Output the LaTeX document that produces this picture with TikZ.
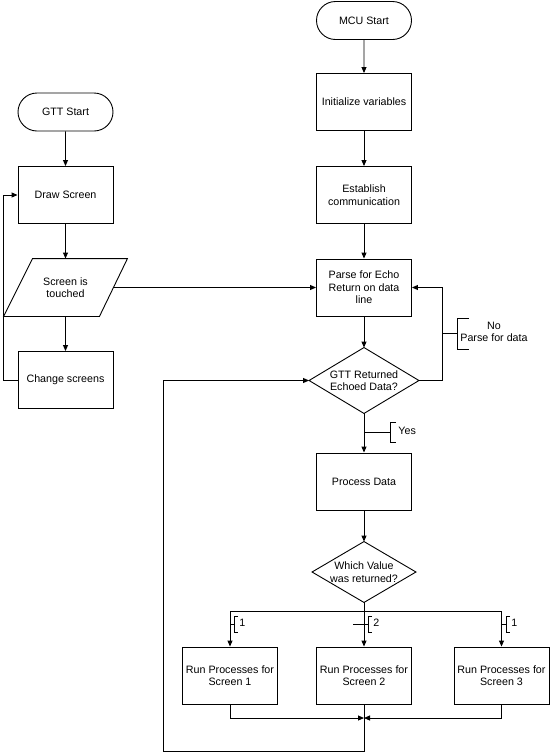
\documentclass[tikz,border=0pt]{standalone}
\usepackage{fontspec}
\setmainfont{Liberation Sans}
\usetikzlibrary{shapes.geometric,shapes.misc,arrows.meta}
\begin{document}
\begin{tikzpicture}[x=1pt,y=-1pt,
  every node/.style={font=\fontsize{10.7}{12.5}\selectfont, align=center, inner sep=0pt},
  proc/.style={draw, rectangle, minimum width=95pt, minimum height=57pt},
  term/.style={draw, rounded rectangle, minimum width=95pt, minimum height=38pt},
  iobox/.style={rectangle, minimum width=95pt, minimum height=57pt},
  decbox/.style={rectangle, minimum width=109pt, minimum height=65pt},
  arr/.style={-{Triangle[length=6pt,width=5pt]}},
  line width=0.9pt]
\useasboundingbox (0,0) rectangle (550,753);
\fill[white] (0,0) rectangle (550,753);

% GTT side
\node[term] (gs) at (65.5,112) {GTT Start};
\node[proc] (ds) at (65.5,195) {Draw Screen};
\node[iobox] (st) at (65.5,287.5) {Screen is\\touched};
\draw ([xshift=15pt]st.north west) -- ([xshift=14pt]st.north east)
      -- ([xshift=-14pt]st.south east) -- ([xshift=-14pt]st.south west) -- cycle;
\node[proc] (cs) at (65.5,380) {Change screens};

% MCU side
\node[term] (ms) at (364,20.5) {MCU Start};
\node[proc] (iv) at (364,102) {Initialize variables};
\node[proc] (ec) at (364,195) {Establish\\communication};
\node[proc] (pe) at (364,287.5) {Parse for Echo\\Return on data\\line};
\node[decbox] (gr) at (364,380.5) {GTT Returned\\Echoed Data?};
\draw (gr.north) -- (gr.east) -- (gr.south) -- (gr.west) -- cycle;
\node[proc] (pd) at (364,481.5) {Process Data};
\node[decbox, minimum width=103pt, minimum height=60pt] (wv) at (364,572) {Which Value\\was returned?};
\draw (wv.north) -- (wv.east) -- (wv.south) -- (wv.west) -- cycle;
\node[proc] (r1) at (230,675.5) {Run Processes for\\Screen 1};
\node[proc] (r2) at (364,675.5) {Run Processes for\\Screen 2};
\node[proc] (r3) at (501.5,675.5) {Run Processes for\\Screen 3};

% GTT connectors
\draw[arr] (gs) -- (ds);
\draw[arr] (ds) -- (st);
\draw[arr] (st) -- (cs);
\draw[arr] (cs.west) -- ++(-14,0) |- (ds.west);
\draw[arr] (st.east) -- (pe.west);

% MCU connectors
\draw[arr] (ms) -- (iv);
\draw[arr] (iv) -- (ec);
\draw[arr] (ec) -- (pe);
\draw[arr] (pe) -- (gr);
\draw[arr] (gr) -- (pd);
\draw[arr] (pd) -- (wv);
\draw[arr] (gr.east) -- ++(23,0) |- (pe.east);

% No annotation
\coordinate (noa) at (442,333);
\coordinate (nob) at (457,333);
\draw (noa) -- (nob);
\draw (469,318) -- (457,318) -- (457,349) -- (469,349);
\node (notxt) at (494,332) {No\\Parse for data};

% Yes annotation
\coordinate (yesa) at (364,432);
\coordinate (yesb) at (390,432);
\draw (yesa) -- (yesb);
\draw (396,422) -- (390,422) -- (390,442) -- (396,442);
\node[anchor=west] (yestxt) at (398,431) {Yes};

% branch
\coordinate (br) at (364,611);
\draw (wv.south) -- (br);
\draw[arr] (br) -- (r2.north);
\draw[arr] (br) -| (r1.north);
\draw[arr] (br) -| (r3.north);

% branch labels
\draw (230,624) -- (234,624);
\draw (238,616) -- (234,616) -- (234,632) -- (238,632);
\node[anchor=west] (l1) at (239,623) {1};
\draw (353,624) -- (368,624);
\draw (372,616) -- (368,616) -- (368,632) -- (372,632);
\node[anchor=west] (l2) at (373,623) {2};
\draw (501.5,624) -- (506,624);
\draw (510,616) -- (506,616) -- (506,632) -- (510,632);
\node[anchor=west] (l3) at (511,623) {1};

% merge
\coordinate (mg) at (364,718);
\draw[arr] (r1.south) |- (mg);
\draw[arr] (r3.south) |- (mg);
\coordinate (lb) at (364,751);
\coordinate (ll) at (163,751);
\draw[arr] (r2.south) -- (lb) -- (ll) |- (gr.west);
\end{tikzpicture}
\end{document}
